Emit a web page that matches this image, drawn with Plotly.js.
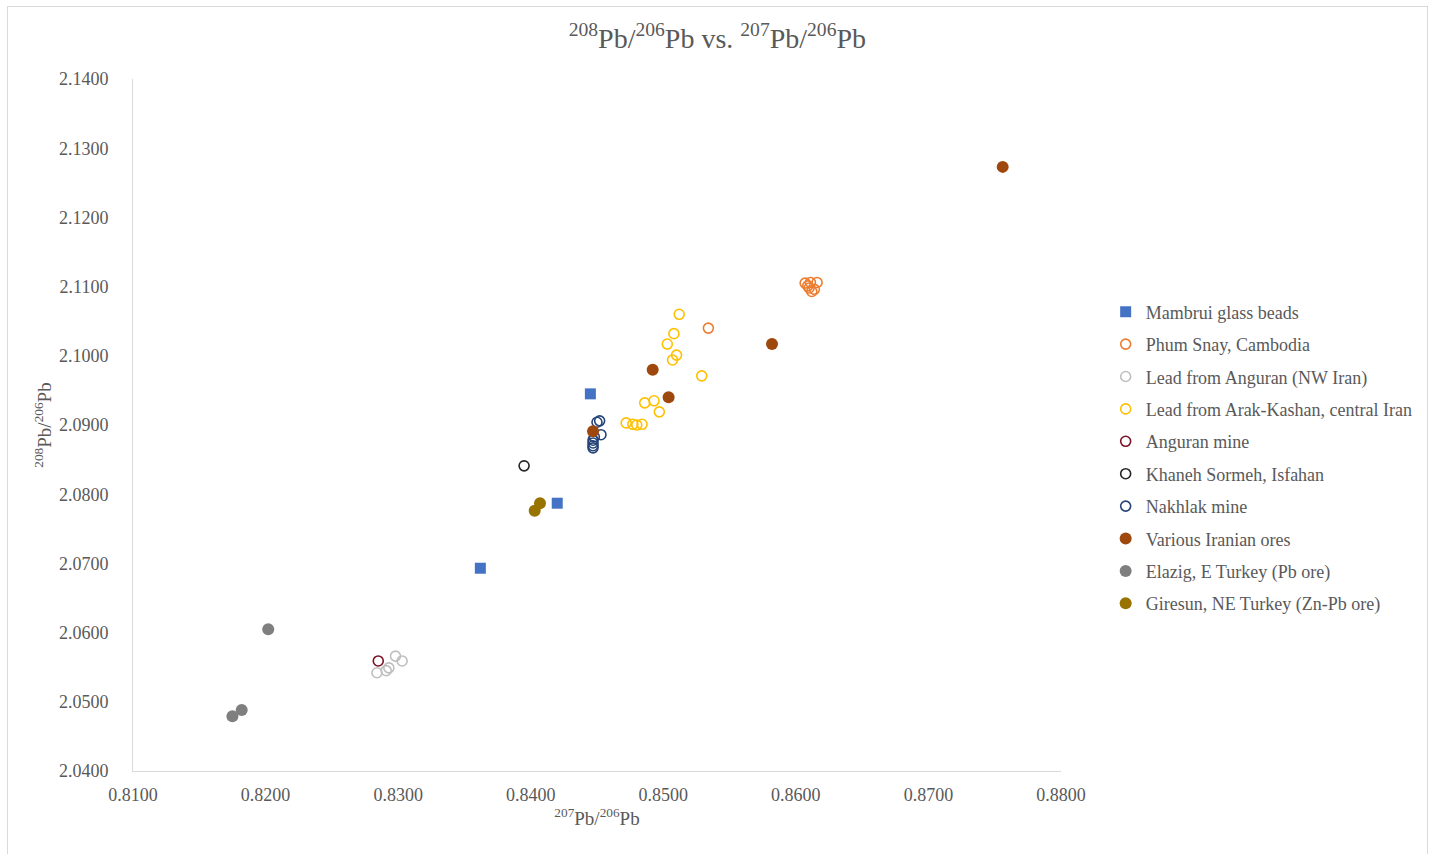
<!DOCTYPE html>
<html>
<head>
<meta charset="utf-8">
<script src="https://cdn.plot.ly/plotly-3.0.1.min.js"></script>
<style>
html,body{margin:0;padding:0;background:#fff;}
#frame{position:absolute;left:7px;top:6px;width:1421px;height:860px;border:1px solid #d9d9d9;box-sizing:border-box;}
#chart{position:absolute;left:0;top:0;width:1429px;height:854px;}
</style>
</head>
<body>
<div id="frame"></div>
<div id="chart"></div>
<script>
// Mambrui glass beads
const mambruiX = [0.8445, 0.8420, 0.8362];
const mambruiY = [2.0945, 2.0787, 2.0693];
// Phum Snay, Cambodia
const phumX = [0.8534, 0.8607, 0.8611, 0.8616, 0.8609, 0.8612, 0.8614, 0.8610];
const phumY = [2.1040, 2.1105, 2.1106, 2.1106, 2.1101, 2.1093, 2.1096, 2.1098];
// Lead from Anguran (NW Iran)
const angLeadX = [0.8284, 0.8291, 0.8293, 0.8298, 0.8303];
const angLeadY = [2.0542, 2.0545, 2.0549, 2.0566, 2.0559];
// Lead from Arak-Kashan, central Iran
const arakX = [0.8512, 0.8508, 0.8503, 0.8510, 0.8507, 0.8529, 0.8486, 0.8493, 0.8497, 0.8472, 0.8477, 0.8480, 0.8484];
const arakY = [2.1060, 2.1032, 2.1017, 2.1001, 2.0994, 2.0971, 2.0932, 2.0935, 2.0919, 2.0903, 2.0901, 2.0900, 2.0901];
// Anguran mine
const angMineX = [0.8285];
const angMineY = [2.0559];
// Khaneh Sormeh, Isfahan
const khanehX = [0.8395];
const khanehY = [2.0841];
// Nakhlak mine
const nakhlakX = [0.8450, 0.8452, 0.8453, 0.8448, 0.8447, 0.8447, 0.8447, 0.8447];
const nakhlakY = [2.0904, 2.0906, 2.0886, 2.0883, 2.0878, 2.0874, 2.0870, 2.0867];
// Various Iranian ores
const variousX = [0.8756, 0.8582, 0.8492, 0.8504, 0.8447];
const variousY = [2.1273, 2.1017, 2.0980, 2.0940, 2.0891];
// Elazig, E Turkey (Pb ore)
const elazigX = [0.8202, 0.8175, 0.8182];
const elazigY = [2.0605, 2.0479, 2.0488];
// Giresun, NE Turkey (Zn-Pb ore)
const giresunX = [0.8403, 0.8407];
const giresunY = [2.0776, 2.0787];

const seriesNames = [
  "Mambrui glass beads",
  "Phum Snay, Cambodia",
  "Lead from Anguran (NW Iran)",
  "Lead from Arak-Kashan, central Iran",
  "Anguran mine",
  "Khaneh Sormeh, Isfahan",
  "Nakhlak mine",
  "Various Iranian ores",
  "Elazig, E Turkey (Pb ore)",
  "Giresun, NE Turkey (Zn-Pb ore)"
];
const xTickVals = [0.81, 0.82, 0.83, 0.84, 0.85, 0.86, 0.87, 0.88];
const yTickVals = [2.04, 2.05, 2.06, 2.07, 2.08, 2.09, 2.10, 2.11, 2.12, 2.13, 2.14];

function openTrace(name, x, y, color, i) {
  return {type:'scatter', mode:'markers', name:name, x:x, y:y, legendgroup:'g'+i,
    marker:{symbol:'circle-open', size:10, color:color, line:{width:1.6, color:color}}};
}
function filledTrace(name, x, y, color, i, sym) {
  return {type:'scatter', mode:'markers', name:name, x:x, y:y, legendgroup:'g'+i,
    marker:{symbol:sym || 'circle', size:sym==='square' ? 11 : 12, color:color}};
}

const data = [
  filledTrace(seriesNames[0], mambruiX, mambruiY, '#4472C4', 0, 'square'),
  openTrace(seriesNames[1], phumX, phumY, '#ED7D31', 1),
  openTrace(seriesNames[2], angLeadX, angLeadY, '#BFBFBF', 2),
  openTrace(seriesNames[3], arakX, arakY, '#FFC000', 3),
  openTrace(seriesNames[4], angMineX, angMineY, '#7B1426', 4),
  openTrace(seriesNames[5], khanehX, khanehY, '#262626', 5),
  openTrace(seriesNames[6], nakhlakX, nakhlakY, '#264478', 6),
  filledTrace(seriesNames[7], variousX, variousY, '#9E480E', 7),
  filledTrace(seriesNames[8], elazigX, elazigY, '#7F7F7F', 8),
  filledTrace(seriesNames[9], giresunX, giresunY, '#997300', 9)
];

const fontFam = '"Liberation Serif", "Times New Roman", serif';
const layout = {
  width:1429, height:854,
  paper_bgcolor:'rgba(0,0,0,0)', plot_bgcolor:'rgba(0,0,0,0)',
  margin:{l:133, r:367, t:79, b:83, pad:0},
  font:{family:fontFam, color:'#595959', size:18},
  title:{text:'<sup>208</sup>Pb/<sup>206</sup>Pb vs. <sup>207</sup>Pb/<sup>206</sup>Pb',
    font:{family:fontFam, size:28, color:'#595959'}, x:0.502, xref:'container', xanchor:'center', y:0.955, yanchor:'middle'},
  xaxis:{range:[0.81, 0.88], tickvals:xTickVals, tickformat:'.4f', showgrid:false, zeroline:false,
    showline:true, linecolor:'#d9d9d9', linewidth:1, ticks:'', ticklabelstandoff:7, tickfont:{size:18, color:'#595959'},
    title:{text:'<sup>207</sup>Pb/<sup>206</sup>Pb', font:{size:19, color:'#595959'}, standoff:8}},
  yaxis:{range:[2.04, 2.14], tickvals:yTickVals, tickformat:'.4f', showgrid:false, zeroline:false,
    showline:true, linecolor:'#d9d9d9', linewidth:1, ticks:'', ticklabelstandoff:20, tickfont:{size:18, color:'#595959'},
    title:{text:'<sup>208</sup>Pb/<sup>206</sup>Pb', font:{size:19, color:'#595959'}, standoff:2}},
  legend:{x:1.047, xanchor:'left', y:0.690, yanchor:'top', tracegroupgap:6,
    font:{family:fontFam, size:18, color:'#595959'}, itemwidth:30, bgcolor:'rgba(0,0,0,0)'},
  showlegend:true
};
Plotly.newPlot('chart', data, layout, {displayModeBar:false, staticPlot:true});
</script>
</body>
</html>
